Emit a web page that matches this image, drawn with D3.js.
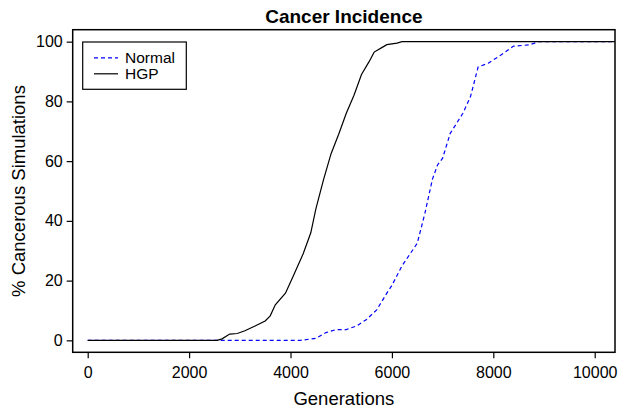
<!DOCTYPE html>
<html>
<head>
<meta charset="utf-8">
<script src="https://cdn.jsdelivr.net/npm/d3@7"></script>
<style>
	body { margin: 0; background: #fff; }
	svg text { font-family: "Liberation Sans", Arial, Helvetica, sans-serif; fill: #000; }
</style>
</head>
<body>
<script>
// data
const normalGen = [0, 4200, 4500, 4700, 4900, 5100, 5300, 5500, 5700, 5900, 6000, 6200, 6500, 6650, 6800, 6900, 7000, 7150, 7400, 7550, 7700, 7900, 8150, 8400, 8700, 8900, 10400];
const normalPct = [0, 0, 0.7, 2.6, 3.6, 3.6, 4.8, 7, 10.2, 15.8, 18.4, 25, 32.5, 42.5, 54, 58.7, 61, 69.3, 76, 81.6, 91.5, 92.8, 95.5, 98.5, 98.9, 100, 100];
const hgpGen = [0, 2550, 2650, 2800, 2950, 3100, 3300, 3500, 3600, 3700, 3900, 4050, 4250, 4400, 4500, 4650, 4800, 4950, 5100, 5250, 5400, 5550, 5650, 5800, 5900, 6100, 6200, 10400];
const hgpPct = [0, 0, 0.5, 2.1, 2.3, 3.2, 4.8, 6.5, 8.2, 11.9, 15.8, 21.4, 29, 36, 44, 53.7, 62.5, 69, 76, 82, 89, 93.3, 96.5, 98, 99, 99.5, 100, 100];
const xTicks = [0, 2000, 4000, 6000, 8000, 10000];
const yTicks = [0, 20, 40, 60, 80, 100];
const seriesNames = ["Normal", "HGP"];

const svgWidth = 623;
const svgHeight = 410;
// plot box
const box = { left: 72.7, right: 615, top: 29.7, bottom: 352.3 };

const svg = d3
	.select("body")
	.append("svg")
	.attr("width", svgWidth)
	.attr("height", svgHeight);

//scales
const xScale = d3
	.scaleLinear()
	.domain([-296, 10400])
	.range([box.left, box.right]);

const yScale = d3
	.scaleLinear()
	.domain([-4, 104])
	.range([box.bottom, box.top]);

//=====
//lines
//=====
const line = d3
	.line()
	.x((d) => xScale(d[0]))
	.y((d) => yScale(d[1]));

svg
	.append("path")
	.datum(d3.zip(normalGen, normalPct))
	.attr("d", line)
	.attr("stroke", "#0000ff")
	.attr("stroke-width", 1.2)
	.attr("stroke-dasharray", "4,3")
	.attr("fill", "none");

svg
	.append("path")
	.datum(d3.zip(hgpGen, hgpPct))
	.attr("d", line)
	.attr("stroke", "#000")
	.attr("stroke-width", 1.2)
	.attr("fill", "none");

//=====
//axes
//=====
const xAxis = svg
	.append("g")
	.attr("transform", `translate(0, ${box.bottom})`)
	.call(d3.axisBottom(xScale).tickValues(xTicks).tickFormat(d3.format("d")).tickSize(6).tickSizeOuter(0).tickPadding(8));

const yAxis = svg
	.append("g")
	.attr("transform", `translate(${box.left}, 0)`)
	.call(d3.axisLeft(yScale).tickValues(yTicks).tickSize(6).tickSizeOuter(0).tickPadding(4));

[xAxis, yAxis].forEach((ax) => {
	ax.select(".domain").remove();
	ax.selectAll(".tick line").attr("stroke", "#000").attr("stroke-width", 1.2);
	ax.selectAll(".tick text").style("font-size", "16px");
});

//box
svg
	.append("rect")
	.attr("x", box.left)
	.attr("y", box.top)
	.attr("width", box.right - box.left)
	.attr("height", box.bottom - box.top)
	.attr("fill", "none")
	.attr("stroke", "#000")
	.attr("stroke-width", 1.5);

//=====
//titles
//=====
svg
	.append("text")
	.attr("x", (box.left + box.right) / 2)
	.attr("y", 22.7)
	.attr("text-anchor", "middle")
	.style("font-size", "19px")
	.style("font-weight", "bold")
	.text("Cancer Incidence");

svg
	.append("text")
	.attr("x", (box.left + box.right) / 2)
	.attr("y", 405)
	.attr("text-anchor", "middle")
	.style("font-size", "18.5px")
	.text("Generations");

svg
	.append("text")
	.attr("transform", `translate(25, ${(box.top + box.bottom) / 2}) rotate(-90)`)
	.attr("text-anchor", "middle")
	.style("font-size", "18.5px")
	.text("% Cancerous Simulations");

//=====
//legend
//=====
const legend = svg.append("g").attr("transform", "translate(82.7, 42)");

legend
	.append("rect")
	.attr("width", 103.6)
	.attr("height", 47.3)
	.attr("fill", "#fff")
	.attr("stroke", "#000")
	.attr("stroke-width", 1.2);

const legendStyle = [
	{ stroke: "#0000ff", dash: "4,3" },
	{ stroke: "#000", dash: null },
];

const items = legend
	.selectAll(".item")
	.data(seriesNames)
	.enter()
	.append("g")
	.attr("class", "item")
	.attr("transform", (d, i) => `translate(0, ${15.8 + i * 16})`);

items
	.append("line")
	.attr("x1", 11.3)
	.attr("x2", 35.3)
	.attr("stroke", (d, i) => legendStyle[i].stroke)
	.attr("stroke-dasharray", (d, i) => legendStyle[i].dash)
	.attr("stroke-width", 1.2);

items
	.append("text")
	.attr("x", 42.3)
	.attr("dy", "0.35em")
	.style("font-size", "15.5px")
	.text((d) => d);
</script>
</body>
</html>
